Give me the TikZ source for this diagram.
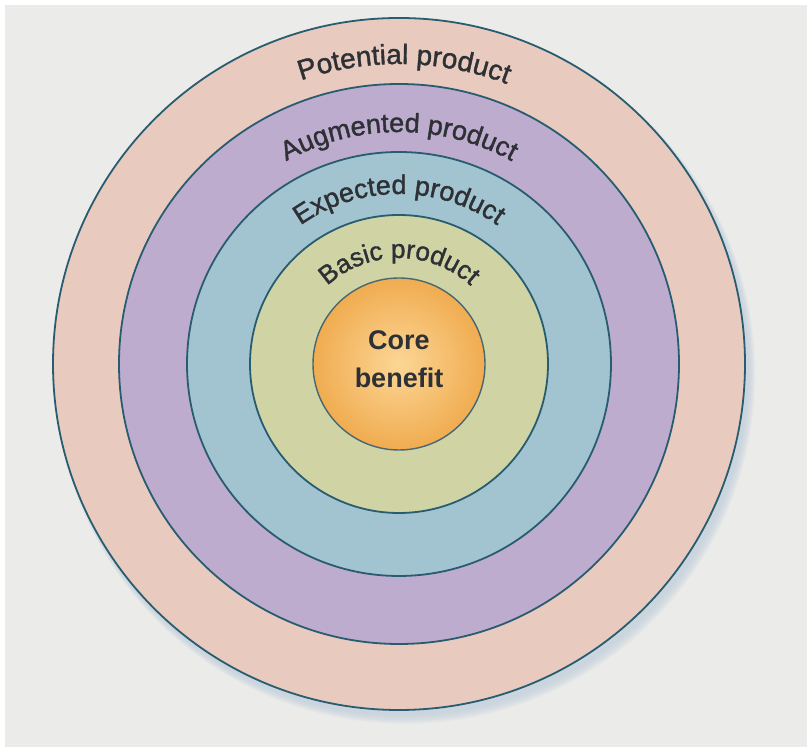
\documentclass[tikz,border=0pt]{standalone}
\usepackage{fontspec}
\setmainfont{Liberation Sans}
\newfontfamily\ringfont[FakeBold=1.3]{Liberation Sans}
\usetikzlibrary{decorations.text,calc}
\definecolor{bgpaper}{RGB}{235,235,233}
\definecolor{rimline}{RGB}{40,92,112}
\definecolor{potential}{RGB}{232,203,190}
\definecolor{augmented}{RGB}{190,172,206}
\definecolor{expected}{RGB}{162,196,208}
\definecolor{basic}{RGB}{208,212,164}
\definecolor{corein}{RGB}{252,214,150}
\definecolor{coreout}{RGB}{240,172,80}
\definecolor{labelink}{RGB}{45,48,52}
\definecolor{shadowtint}{RGB}{190,206,220}
\begin{document}
\begin{tikzpicture}[x=1pt,y=1pt,
  ring/.style={draw=rimline,line width=1.8pt},
  ringlabel/.style={decorate,decoration={text along path,
      text={#1},text align={center},
      text color=labelink}}]
\useasboundingbox (0,0) rectangle (807,747);
% paper
\fill[white] (0,0) rectangle (807,747);
\fill[bgpaper] (5,0) rectangle (807,742);
\coordinate (c) at (399,383);
% soft shadow under the outer ring
\foreach \k in {1,...,8}{
  \fill[shadowtint,opacity=0.12] ($(c)+(3+0.4*\k,-5-0.6*\k)$) circle[radius=346+0.5*\k];
}
% rings
\node[ring,circle,fill=potential,minimum size=692pt,inner sep=0pt] (pot) at (c) {};
\node[ring,circle,fill=augmented,minimum size=560pt,inner sep=0pt] (aug) at (c) {};
\node[ring,circle,fill=expected,minimum size=424pt,inner sep=0pt] (exp) at (c) {};
\node[ring,circle,fill=basic,minimum size=298pt,inner sep=0pt] (bas) at (c) {};
\node[circle,draw=rimline!70!black!80,line width=1.4pt,inner sep=0pt,minimum size=172pt,
      inner color=corein,outer color=coreout] (core) at (c) {};
% curved labels
\path[ringlabel={|\ringfont\fontsize{28}{28}\selectfont|Potential product}]
  ($(c)+(144:300)$) arc[start angle=144,end angle=34,radius=300];
\path[ringlabel={|\ringfont\fontsize{27}{27}\selectfont|Augmented product}]
  ($(c)+(140:232)$) arc[start angle=140,end angle=40,radius=232];
\path[ringlabel={|\ringfont\fontsize{27}{27}\selectfont|Expected product}]
  ($(c)+(145:170)$) arc[start angle=145,end angle=35,radius=170];
\path[ringlabel={|\ringfont\fontsize{26}{26}\selectfont|Basic product}]
  ($(c)+(160:106)$) arc[start angle=160,end angle=20,radius=106];
% centre label
\node[align=center,font=\bfseries\fontsize{27}{38}\selectfont,text=labelink]
  at ($(core)+(0,5)$) {Core\\benefit};
\end{tikzpicture}
\end{document}
